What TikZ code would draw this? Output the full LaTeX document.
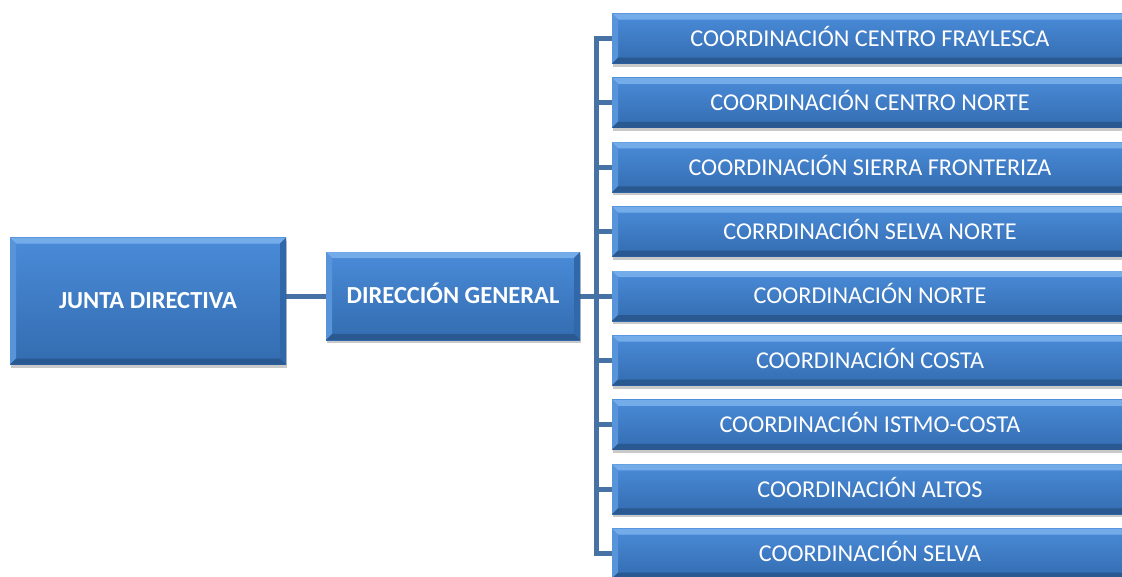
\documentclass[tikz,border=0pt]{standalone}
\usepackage{fontspec}
\setmainfont{Carlito}
\usetikzlibrary{shadows}
\definecolor{boxtop}{HTML}{4A8BD8}
\definecolor{boxbot}{HTML}{336CB0}
\definecolor{bevT}{HTML}{74ACEA}
\definecolor{bevL}{HTML}{5894DA}
\definecolor{bevR}{HTML}{3068AA}
\definecolor{bevB}{HTML}{2A5890}
\definecolor{linec}{HTML}{4672A6}
\pgfdeclarelayer{background}
\pgfsetlayers{background,main}
\newcommand{\bvsz}{6pt}
\begin{document}
\begin{tikzpicture}[x=1pt,y=-1pt,
  bevbox/.style={rectangle, inner sep=0pt, text=white,
    top color=boxtop, bottom color=boxbot,
    text height=15.5pt, text depth=0pt,
    drop shadow={shadow xshift=1pt, shadow yshift=-3pt, opacity=0.3, fill=black!70},
    path picture={
      \fill[bevT] (path picture bounding box.north west) -- (path picture bounding box.north east)
        -- ([shift={(-\bvsz,-\bvsz)}]path picture bounding box.north east)
        -- ([shift={(\bvsz,-\bvsz)}]path picture bounding box.north west) -- cycle;
      \fill[bevL] (path picture bounding box.north west) -- ([shift={(\bvsz,-\bvsz)}]path picture bounding box.north west)
        -- ([shift={(\bvsz,\bvsz)}]path picture bounding box.south west)
        -- (path picture bounding box.south west) -- cycle;
      \fill[bevR] (path picture bounding box.north east) -- ([shift={(-\bvsz,-\bvsz)}]path picture bounding box.north east)
        -- ([shift={(-\bvsz,\bvsz)}]path picture bounding box.south east)
        -- (path picture bounding box.south east) -- cycle;
      \fill[bevB] (path picture bounding box.south west) -- (path picture bounding box.south east)
        -- ([shift={(-\bvsz,\bvsz)}]path picture bounding box.south east)
        -- ([shift={(\bvsz,\bvsz)}]path picture bounding box.south west) -- cycle;
    }},
  bigtxt/.style={font=\fontsize{24.5}{28}\selectfont\bfseries},
  smalltxt/.style={font=\fontsize{24.2}{28}\selectfont},
  coord/.style={bevbox, smalltxt, minimum width=516pt, minimum height=50pt},
  conn/.style={draw=linec, line width=5pt}
]
\useasboundingbox (0,0) rectangle (1122,576);

\node[bevbox, bigtxt, minimum width=276pt, minimum height=127pt] (junta) at (148,301) {JUNTA DIRECTIVA};
\node[bevbox, bigtxt, minimum width=254pt, minimum height=88pt] (dir) at (453,296) {DIRECCIÓN GENERAL};

\node[coord] (c1) at (870,38.5) {COORDINACIÓN CENTRO FRAYLESCA};
\node[coord] (c2) at (870,102.9) {COORDINACIÓN CENTRO NORTE};
\node[coord] (c3) at (870,167.3) {COORDINACIÓN SIERRA FRONTERIZA};
\node[coord] (c4) at (870,231.7) {CORRDINACIÓN SELVA NORTE};
\node[coord] (c5) at (870,296.1) {COORDINACIÓN NORTE};
\node[coord] (c6) at (870,360.5) {COORDINACIÓN COSTA};
\node[coord] (c7) at (870,424.9) {COORDINACIÓN ISTMO-COSTA};
\node[coord] (c8) at (870,489.3) {COORDINACIÓN ALTOS};
\node[coord] (c9) at (870,553.7) {COORDINACIÓN SELVA};
\coordinate (bus) at (596,296);

\begin{pgfonlayer}{background}
\draw[conn] (dir.west -| junta.east) -- (dir.west);
\draw[conn] (dir.east) -- (bus);
\draw[conn] (c1.west) -- (c1.west -| bus) -- (c9.west -| bus) -- (c9.west);
\foreach \i in {2,...,8} {\draw[conn] (c\i.west -| bus) -- (c\i.west);}
\end{pgfonlayer}
\end{tikzpicture}
\end{document}
